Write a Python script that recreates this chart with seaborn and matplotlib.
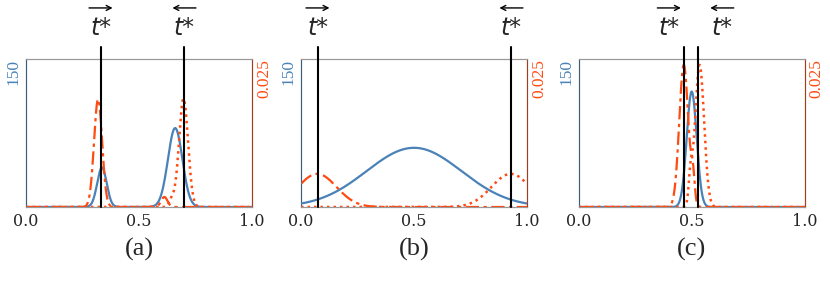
import matplotlib
matplotlib.use("Agg")
import matplotlib.pyplot as plt
import matplotlib.transforms as mtransforms
import seaborn as sns
import pandas as pd
import numpy as np

# panel captions, the two marked positions per panel and where their labels sit
captions = ["(a)", "(b)", "(c)"]
t_fwd = [0.331, 0.074, 0.465]
t_bwd = [0.700, 0.930, 0.530]
lab_fwd = [0.331, 0.074, 0.400]
lab_bwd = [0.700, 0.930, 0.634]

# blue curve (left axis, 0-150): bump centres, heights, widths
blue_mu = [[0.336, 0.660], [0.50], [0.50]]
blue_h = [[40, 80], [60], [117]]
blue_sd = [[0.021, 0.032], [0.21], [0.022]]

# dash-dot curve (right axis, 0-0.025)
dd_mu = [[0.319, 0.612], [0.072], [0.465, 0.505]]
dd_h = [[0.0182, 0.0017], [0.0056], [0.0240, 0.0045]]
dd_sd = [[0.018, 0.014], [0.085], [0.020, 0.008]]

# dotted curve (right axis)
dot_mu = [[0.697, 0.645], [0.928], [0.535, 0.495]]
dot_h = [[0.0183, 0.0012], [0.0056], [0.0240, 0.0045]]
dot_sd = [[0.020, 0.012], [0.085], [0.020, 0.008]]

blue = "#4a82b8"
orange = "#ff4a12"

x = np.linspace(0, 1, 800)


def curve(mu, h, sd):
    y = np.zeros_like(x)
    for m, hh, s in zip(mu, h, sd):
        y += hh * np.exp(-(x - m) ** 2 / (2 * s ** 2))
    return pd.DataFrame({"x": x, "y": y})


sns.set_style("white")
plt.rcParams["font.family"] = ["DejaVu Serif"]

fig = plt.figure(figsize=(8.3, 2.85), dpi=100)
lefts = [26 / 830, 301 / 830, 578.7 / 830]
for i, left in enumerate(lefts):
    ax = fig.add_axes([left, 78 / 285, 226 / 830, 148 / 285])
    ax2 = ax.twinx()

    sns.lineplot(data=curve(blue_mu[i], blue_h[i], blue_sd[i]), x="x", y="y",
                 ax=ax, color=blue, lw=1.6, zorder=3)
    sns.lineplot(data=curve(dd_mu[i], dd_h[i], dd_sd[i]), x="x", y="y",
                 ax=ax2, color=orange, lw=1.6, linestyle=(0, (6, 2, 1.5, 2)))
    sns.lineplot(data=curve(dot_mu[i], dot_h[i], dot_sd[i]), x="x", y="y",
                 ax=ax2, color=orange, lw=1.8, linestyle=(0, (1, 1.6)))

    ax.set_xlim(0, 1)
    ax.set_ylim(0, 150)
    ax2.set_ylim(0, 0.025)
    ax.set_xlabel("")
    ax.set_ylabel("")
    ax2.set_ylabel("")
    ax.set_xticks([0, 0.5, 1.0])
    ax.set_xticklabels(["0.0", "0.5", "1.0"], fontsize=11.5)
    ax.tick_params(axis="x", length=3, width=0.8, color="#888888", pad=1)

    ax.set_yticks([150])
    ax.set_yticklabels(["150"], fontsize=12.5, color=blue, rotation=90, va="top",
                       family="Liberation Serif")
    ax.tick_params(axis="y", length=0, pad=3)
    ax2.set_yticks([0.025])
    ax2.set_yticklabels(["0.025"], fontsize=12.5, color=orange, rotation=90, va="top",
                        family="Liberation Serif")
    ax2.tick_params(axis="y", length=0, pad=3)

    for a in (ax, ax2):
        a.spines["top"].set_color("#999999")
        a.spines["bottom"].set_color("#999999")
    ax2.spines["left"].set_color(blue)
    ax2.spines["left"].set_alpha(0.6)
    ax2.spines["right"].set_color(orange)
    ax2.spines["right"].set_alpha(0.6)

    trans = mtransforms.blended_transform_factory(ax.transData, ax.transAxes)
    for t in (t_fwd[i], t_bwd[i]):
        ax2.axvline(t, ymin=0, ymax=1.08, color="black", lw=1.5, clip_on=False, zorder=5)
    for lx, sign in [(lab_fwd[i], 1), (lab_bwd[i], -1)]:
        ax.text(lx, 1.162, "t*", transform=trans, ha="center", va="baseline",
                fontsize=17, style="italic", family="DejaVu Sans")
        ax.annotate("", xy=(lx + sign * 0.052, 1.345), xytext=(lx - sign * 0.052, 1.345),
                    xycoords=trans, textcoords=trans, annotation_clip=False,
                    arrowprops=dict(arrowstyle="->,head_length=0.35,head_width=0.18",
                                    lw=1.0, color="black", shrinkA=0, shrinkB=0))

    ax.text(0.5, -0.29, captions[i], transform=ax.transAxes, ha="center", va="center",
            fontsize=19, family="Liberation Serif")

fig.savefig("out.png", dpi=100)
